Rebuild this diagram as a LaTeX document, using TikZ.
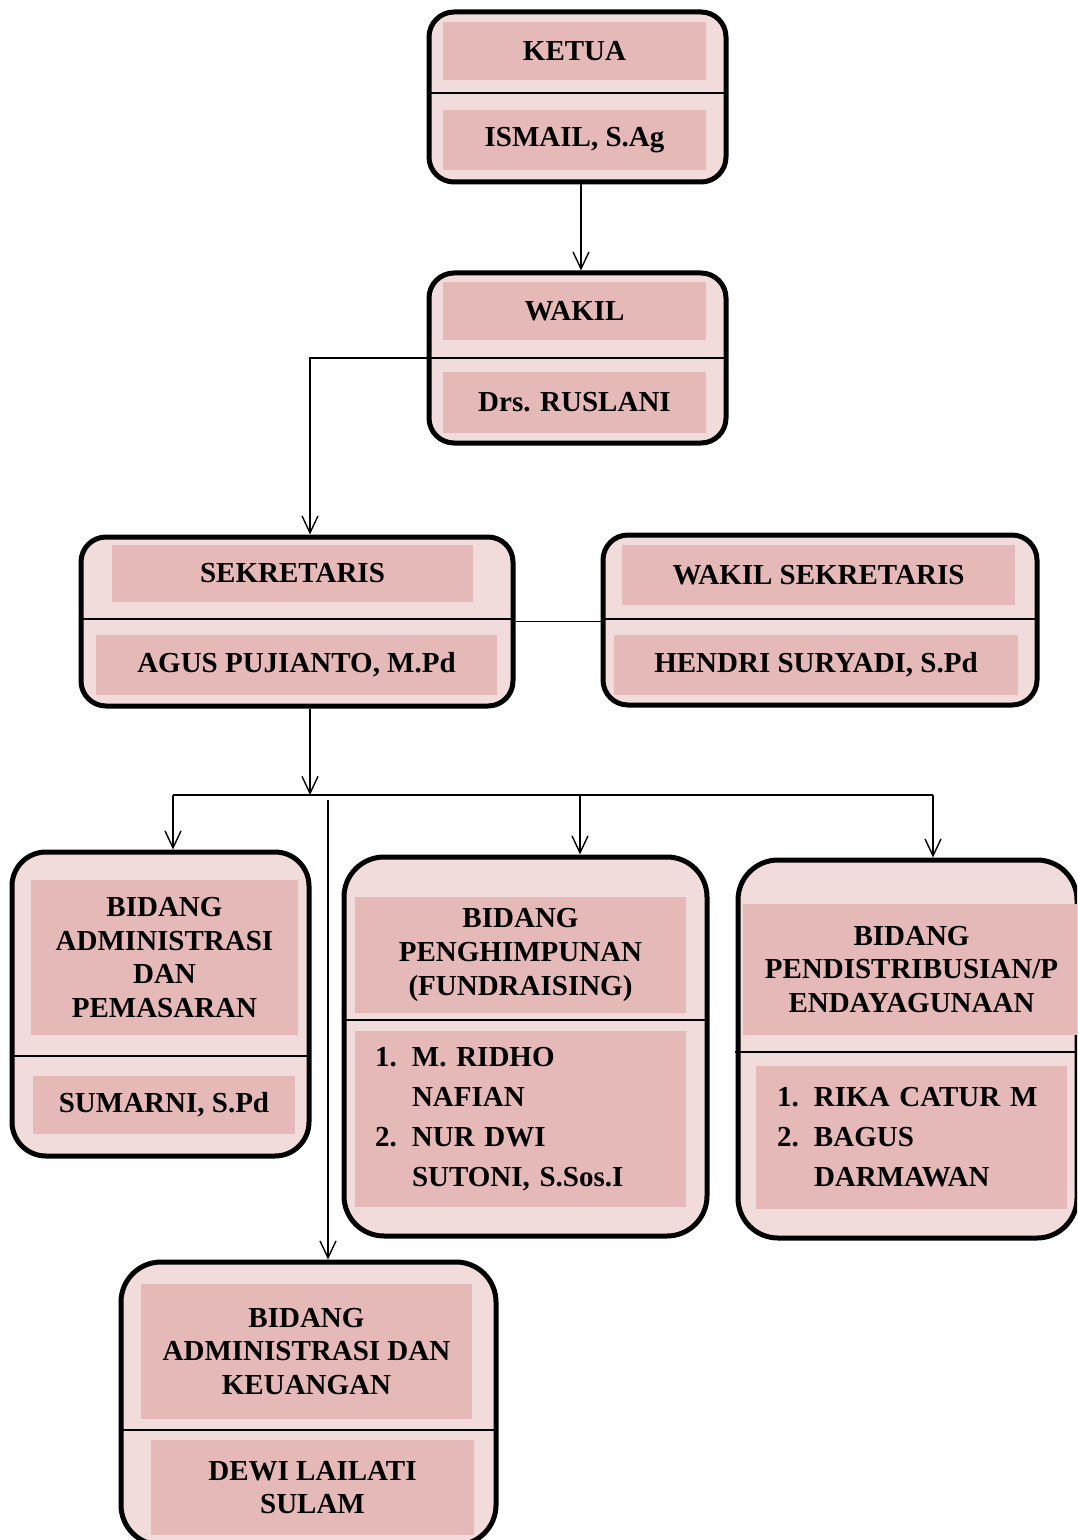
\documentclass[tikz,border=0pt]{standalone}
\usepackage{fontspec}
\setmainfont{Liberation Serif}
\usetikzlibrary{arrows.meta}
\definecolor{box_fill}{RGB}{242,220,219}
\definecolor{cell_fill}{RGB}{229,185,184}
\newcommand\listnum[1]{\makebox[18.5pt][l]{#1}}
\begin{document}
\begin{tikzpicture}[x=0.5pt,y=-0.5pt,>={Straight Barb[length=8.5pt,width=8pt]}]
    \tikzstyle{box}=[draw=black, line width=2.5pt, rectangle, rounded corners=12.5pt, fill=box_fill, inner sep=0pt]
    \tikzstyle{bigbox}=[style=box, rounded corners=20pt]
    \tikzstyle{cell}=[rectangle, fill=cell_fill, inner sep=0pt, align=center, text=black,
                      font=\bfseries\fontsize{14.5}{16.8}\selectfont]
    \tikzstyle{list}=[style=cell, align=left, font=\bfseries\fontsize{14.5}{20}\selectfont]
    \tikzstyle{divider}=[line width=1pt]
    \tikzstyle{conn}=[line width=0.7pt]
    \tikzstyle{arr}=[conn, ->]

    \useasboundingbox (0,0) rectangle (1077,1540);
    \clip (0,0) rectangle (1077,1540);

    % ketua
    \node[box, minimum width=148.5pt, minimum height=85pt] (ketua) at (577.5,97) {};
    \node[cell, minimum width=131.5pt, minimum height=29pt] (ketua1) at (574.5,51) {KETUA};
    \node[cell, minimum width=131.5pt, minimum height=30pt] (ketua2) at (574.5,140) {ISMAIL, S.Ag};
    \draw[divider] (429,93) -- (726,93);

    % wakil
    \node[box, minimum width=148.5pt, minimum height=85pt] (wakil) at (577.5,358) {};
    \node[cell, minimum width=131.5pt, minimum height=29pt] (wakil1) at (574.5,311) {WAKIL};
    \node[cell, minimum width=131.5pt, minimum height=30.5pt] (wakil2) at (574.5,402.5) {Drs. RUSLANI};
    \draw[divider] (429,358) -- (726,358);

    % sekretaris
    \node[box, minimum width=216pt, minimum height=84.5pt] (sek) at (297,621.5) {};
    \node[cell, minimum width=180.5pt, minimum height=28.5pt] (sek1) at (292.5,573.5) {SEKRETARIS};
    \node[cell, minimum width=200.5pt, minimum height=30pt] (sek2) at (296.5,665) {AGUS PUJIANTO, M.Pd};
    \draw[divider] (81,619) -- (513,619);

    % wakil sekretaris
    \node[box, minimum width=217pt, minimum height=85pt] (wsek) at (820,620) {};
    \node[cell, minimum width=196.5pt, minimum height=30pt] (wsek1) at (818.5,575) {WAKIL SEKRETARIS};
    \node[cell, minimum width=202pt, minimum height=30pt] (wsek2) at (816,665) {HENDRI SURYADI, S.Pd};
    \draw[divider] (603,619) -- (1037,619);

    % bidang administrasi dan pemasaran
    \node[box, rounded corners=17pt, minimum width=148.5pt, minimum height=152pt] (bidA) at (160.5,1004) {};
    \node[cell, minimum width=133.5pt, minimum height=77.5pt] (bidA1) at (164.5,957.5)
        {BIDANG\\ADMINISTRASI\\DAN\\PEMASARAN};
    \node[cell, minimum width=131pt, minimum height=29pt] (bidA2) at (164,1105) {SUMARNI, S.Pd};
    \draw[divider] (12,1056) -- (309,1056);

    % bidang penghimpunan
    \node[bigbox, minimum width=181.5pt, minimum height=189.5pt] (bidB) at (525.5,1046.5) {};
    \node[cell, minimum width=165.5pt, minimum height=58pt] (bidB1) at (520.5,955)
        {BIDANG\\PENGHIMPUNAN\\(FUNDRAISING)};
    \node[list, text width=145.5pt, minimum height=88pt, inner xsep=10pt] (bidB2) at (520.5,1119)
        {\listnum{1.}M. RIDHO\\\hspace*{18.5pt}NAFIAN\\\listnum{2.}NUR DWI\\\hspace*{18.5pt}SUTONI, S.Sos.I};
    \draw[divider] (344,1020) -- (707,1020);

    % bidang pendistribusian
    \node[bigbox, minimum width=169.5pt, minimum height=189pt] (bidC) at (907.5,1049) {};
    \node[cell, minimum width=168.5pt, minimum height=65.5pt] (bidC1) at (911.5,969.5)
        {BIDANG\\PENDISTRIBUSIAN/P\\ENDAYAGUNAAN};
    \node[list, text width=134.5pt, minimum height=71.5pt, inner xsep=10.5pt] (bidC2) at (911.5,1137.5)
        {\listnum{1.}RIKA CATUR M\\\listnum{2.}BAGUS\\\hspace*{18.5pt}DARMAWAN};
    \draw[divider] (735,1052) -- (1077,1052);

    % bidang administrasi dan keuangan
    \node[bigbox, minimum width=187.5pt, minimum height=141.5pt] (bidD) at (308.5,1403.5) {};
    \node[cell, minimum width=165.5pt, minimum height=67.5pt] (bidD1) at (306.5,1351.5)
        {BIDANG\\ADMINISTRASI DAN\\KEUANGAN};
    \node[cell, minimum width=161.5pt, minimum height=47.5pt] (bidD2) at (312.5,1487.5)
        {DEWI LAILATI\\SULAM};
    \draw[divider] (121,1430) -- (496,1430);

    % connectors
    \coordinate (bus)  at (310,795);
    \coordinate (busA) at (173,795);
    \coordinate (busB) at (580,795);
    \coordinate (busC) at (933,795);
    \coordinate (busD) at (328,800);

    \draw[arr] ([xshift=1.75pt]ketua.south) -- ([xshift=1.75pt]wakil.north);
    \draw[arr] (wakil.west) -| ([xshift=6.5pt]sek.north);
    \draw[conn] (sek.east) -- (sek.east -| wsek.west);
    \draw[arr] ([xshift=6.5pt]sek.south) -- (bus);
    \draw[conn] (busA) -- (busC);
    \draw[arr] (busA) -- (busA |- bidA.north);
    \draw[arr] (busB) -- (busB |- bidB.north);
    \draw[arr] (busC) -- (busC |- bidC.north);
    \draw[arr] (busD) -- (busD |- bidD.north);
\end{tikzpicture}
\end{document}
